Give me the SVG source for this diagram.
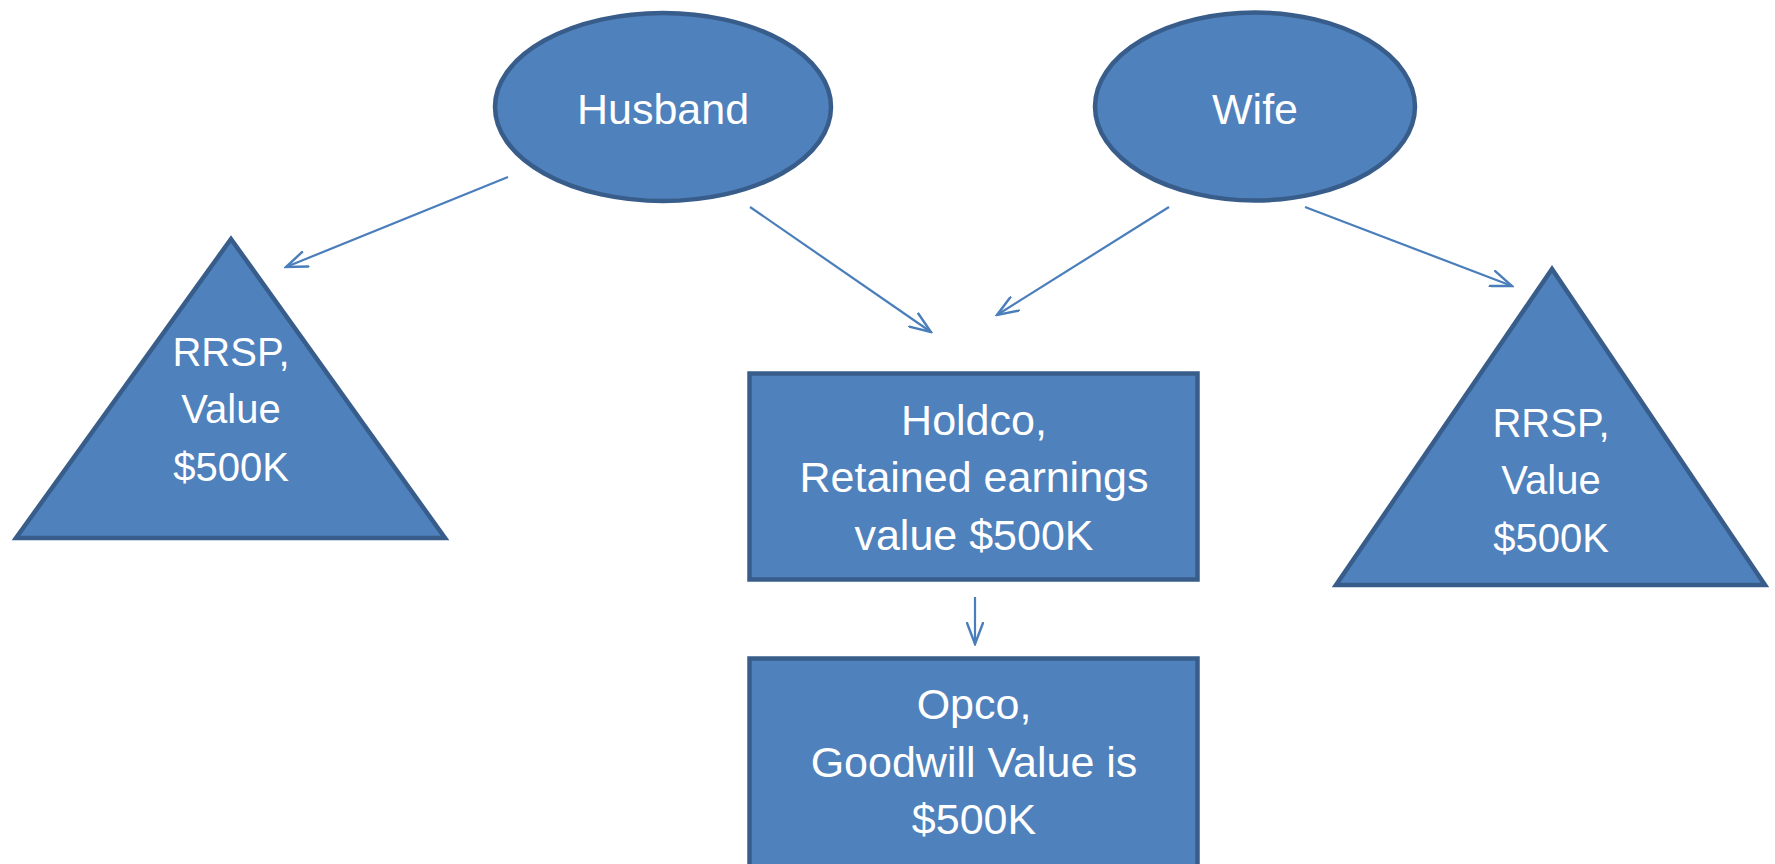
<svg xmlns="http://www.w3.org/2000/svg" width="1775" height="864" viewBox="0 0 1775 864">
<style>
.shape{fill:#4F81BD;stroke:#385D8A;stroke-width:4.5;stroke-linejoin:miter}
.lbl{fill:#FFFFFF;font-family:"Liberation Sans",Arial,sans-serif;font-size:43px;text-anchor:middle}
.tri{font-size:40px}
.conn{fill:none;stroke:#4A7EBB;stroke-width:2.2;marker-end:url(#arr)}
</style>
<defs>
<marker id="arr" markerUnits="userSpaceOnUse" viewBox="0 0 24 18" refX="22" refY="9" markerWidth="24" markerHeight="18" orient="auto">
<path d="M1,1 L22,9 L1,17" fill="none" stroke="#4A7EBB" stroke-width="2.4" stroke-linecap="round" stroke-linejoin="miter"/>
</marker>
</defs>
<rect width="1775" height="864" fill="#FFFFFF"/>
<g id="connectors">
<line class="conn" x1="508" y1="177" x2="286" y2="267"/>
<line class="conn" x1="750" y1="207" x2="931" y2="332"/>
<line class="conn" x1="1169" y1="207" x2="997" y2="315"/>
<line class="conn" x1="1305" y1="207" x2="1512" y2="286"/>
<line class="conn" x1="975" y1="597" x2="975" y2="644"/>
</g>
<g id="husband">
<ellipse class="shape" cx="663" cy="107" rx="168" ry="94"/>
<text class="lbl" x="663" y="124">Husband</text>
</g>
<g id="wife">
<ellipse class="shape" cx="1255" cy="106.5" rx="160" ry="94"/>
<text class="lbl" x="1255" y="124">Wife</text>
</g>
<g id="rrsp-husband">
<polygon class="shape" points="231,239 16,538 445,538"/>
<text class="lbl tri" x="231" y="366">RRSP,</text>
<text class="lbl tri" x="231" y="423">Value</text>
<text class="lbl tri" x="231" y="481">$500K</text>
</g>
<g id="rrsp-wife">
<polygon class="shape" points="1552,269 1336,585 1765,585"/>
<text class="lbl tri" x="1551" y="437">RRSP,</text>
<text class="lbl tri" x="1551" y="494">Value</text>
<text class="lbl tri" x="1551" y="552">$500K</text>
</g>
<g id="holdco">
<rect class="shape" x="749.5" y="373.5" width="448" height="206"/>
<text class="lbl" x="974" y="435">Holdco,</text>
<text class="lbl" x="974" y="492">Retained earnings</text>
<text class="lbl" x="974" y="550">value $500K</text>
</g>
<g id="opco">
<rect class="shape" x="749.5" y="658.5" width="448" height="260"/>
<text class="lbl" x="974" y="719">Opco,</text>
<text class="lbl" x="974" y="777">Goodwill Value is</text>
<text class="lbl" x="974" y="834">$500K</text>
</g>
</svg>
